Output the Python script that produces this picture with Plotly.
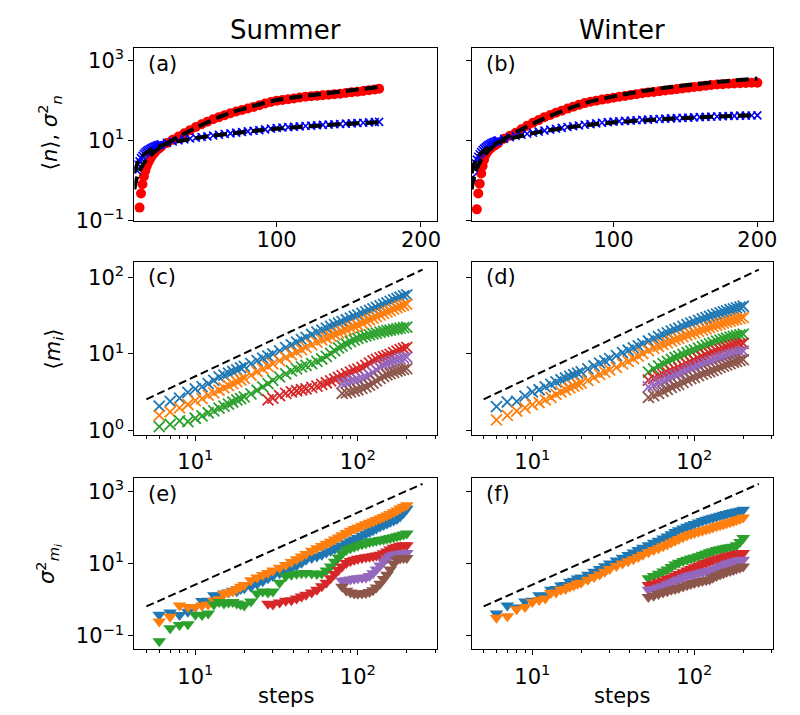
import plotly.graph_objects as go

# ---------------- DATA ----------------
# Row 1 (linear steps): mean <n> (blue x) and variance sigma_n^2 (red circles)
steps_a_var = [5,6,7,8,9,10,11,12,13,14,15,16,17,18,19,20,
               24,28,32,36,40,44,48,52,56,60,64,68,72,76,80,84,88,92,96,100,
               104,108,112,116,120,124,128,132,136,140,144,148,152,156,160,164,168,171]
var_a = [0.21,0.47,0.8,1.25,1.75,2.3,2.8,3.3,3.8,4.3,4.8,5.3,5.8,6.2,6.6,7.0,
         8.6,10.3,12.4,15,18,21.5,25.3,29.3,33.5,38,42.6,47.4,52.3,57.3,62.7,68.5,75,83,91,98,
         102,106,111,117,123,127,130,133,137,141,146,152,158,164,170,178,187,194]
steps_a_mean = [3,4,5,6,7,8,9,10,11,12,13,14,15,16,17,18,19,20,
                24,28,32,36,40,44,48,52,56,60,64,68,72,76,80,84,88,92,96,100,
                104,108,112,116,120,124,128,132,136,140,144,148,152,156,160,164,168,171]
mean_a = [1.8,2.5,3.0,3.6,4.1,4.6,5.0,5.4,5.7,6.0,6.3,6.6,6.9,7.1,7.4,7.6,7.8,8.0,
          8.7,9.4,10.0,10.6,11.1,11.6,12.1,12.6,13.2,13.8,14.4,15.0,15.6,16.2,16.8,17.4,18.0,18.8,19.6,20.4,
          20.9,21.4,21.9,22.4,22.9,23.4,23.9,24.3,24.8,25.2,25.7,26.1,26.6,27.1,27.6,28.1,28.6,29]
fit_a_var_steps = [1.4,3,5,8,12,17,25,35,42,50,63,80,98,115,128,150,171]
fit_a_var = [0.6,1.1,1.7,2.7,4.0,5.8,9.0,14,19,26,42,66,98,122,140,175,215]
fit_a_mean_steps = [1.4,3,5,8,12,20,30,50,75,100,135,171]
fit_a_mean = [1.5,2.4,3.3,4.4,5.6,7.4,9.2,12.3,15.8,19.5,24,28.5]

steps_b_var = [5,6,7,8,9,10,11,12,13,14,15,16,17,18,19,20,
               24,28,32,36,40,44,48,52,56,60,64,68,72,76,80,84,88,92,96,100,
               104,108,112,116,120,124,128,132,136,140,144,148,152,156,160,164,168,172,176,180,
               184,188,192,196,200]
var_b = [0.19,0.47,0.83,1.5,2.3,3.3,4.3,5.0,5.6,6.1,6.6,7.0,7.4,7.8,8.3,8.8,
         11,13,15.5,19,23,27.5,32,38,43,49,55,62,69,77,85,92,98,104,110,116,
         122,128,135,142,150,156,162,168,175,182,190,198,206,214,222,232,242,248,253,258,
         262,266,270,273,275]
steps_b_mean = [2,3,4,5,6,7,8,9,10,11,12,13,14,15,16,17,18,19,20,
                24,28,32,36,40,44,48,52,56,60,64,68,72,76,80,84,88,92,96,100,
                104,108,112,116,120,124,128,132,136,140,144,148,152,156,160,164,168,172,176,180,
                184,188,192,196,200]
mean_b = [1.2,2.0,2.7,3.3,3.9,4.5,5.1,5.7,6.2,6.7,7.2,7.6,8.0,8.4,8.8,9.1,9.4,9.7,10.0,
          11.0,12.0,13.0,13.8,14.6,15.5,16.5,17.5,18.5,19.5,20.5,21.5,22.5,23.5,24.5,25.5,26.5,27.5,28.5,29.3,
          30,30.6,31.2,31.8,32.4,33,33.6,34.2,34.8,35.4,36,36.5,37,37.5,38,38.5,39,39.5,40,40.5,
          41,41.3,41.6,41.8,42]
fit_b_var_steps = [1.4,3,5,8,12,18,25,35,50,65,80,100,120,140,160,180,200]
fit_b_var = [0.6,1.2,2.0,3.3,5.0,7.8,11.5,18,33,55,85,125,170,215,260,305,350]
fit_b_mean_steps = [1.4,3,5,8,12,20,30,50,75,100,150,200]
fit_b_mean = [1.5,2.5,3.5,4.8,6.3,8.9,11.5,16.5,22.5,28,36,43]

# Rows 2-3 (log steps)
steps_log = [6,7,8,9,10,11,12,13,14,15,16,17,18,19,20,22,24,26,28,30,33,36,39,42,45,48,
             52,56,60,64,68,72,76,80,85,90,95,100,106,112,118,124,130,137,144,151,158,166,174,182,191,200]
steps_from28 = steps_log[steps_log.index(28):]
steps_from52 = steps_log[steps_log.index(52):]
steps_from80 = steps_log[steps_log.index(80):]

# (c) <m_i> summer
c1 = [2.07,2.4,2.65,3.15,3.5,3.75,4.1,4.5,5.0,5.3,5.6,5.9,6.2,6.6,6.9, 7.5,8.2,8.8,9.4,10.0,
      11.0,12.1,13.2,14.3,15.4,16.5, 18.0,19.3,20.6,21.8,23.0,24.2,25.4,26.6, 28.1,29.6,31.1,32.3,
      34.0,35.7,37.4,39.1,40.8, 42.8,44.8,46.8,48.8,51.0,53.2,55.4,57.6,59.5]
c2 = [1.57,1.74,1.97,2.18,2.45,2.6,2.9,3.1,3.35,3.6,3.85,4.1,4.35,4.6,4.8, 5.3,5.9,6.4,6.9,7.4,
      8.2,9.0,9.8,10.6,11.4,12.2, 13.3,14.3,15.3,16.2,17.1,18.0,18.9,19.8, 20.9,22.0,23.0,23.8,
      25.3,26.7,28.1,29.5,30.9, 32.5,34.1,35.6,37.1,38.8,40.4,42.0,43.5,45.0]
c3 = [1.12,1.2,1.33,1.3,1.44,1.55,1.7,1.8,1.95,2.07,2.2,2.35,2.5,2.6,2.75, 3.0,3.35,3.7,4.1,4.5,
      5.0,5.5,6.0,6.4,6.8,7.1, 7.5,8.0,8.6,9.3,10.2,11.1,12.0,12.8, 13.6,14.5,15.3,16.0,
      16.7,17.3,17.8,18.3,18.8, 19.3,19.8,20.2,20.6,21.0,21.4,21.8,22.2,22.5]
c4 = [2.5,2.65, 2.85,3.05,3.2,3.3,3.4,3.5, 3.65,3.8,4.0,4.2,4.45,4.7,4.95,5.2, 5.5,5.8,6.1,6.35,
      6.7,7.1,7.6,8.1,8.5, 8.9,9.2,9.5,9.9,10.4,10.9,11.4,11.8,12.2]
c5 = [4.1, 4.2,4.35,4.5,4.6, 4.8,5.0,5.3,5.7,6.2, 6.7,7.2,7.5,7.8,8.1,8.4,8.7,8.9,9.1]
c6 = [3.05, 3.1,3.2,3.3,3.4, 3.55,3.7,3.9,4.15,4.45, 4.8,5.1,5.35,5.55,5.75,5.95,6.15,6.3,6.45]

# (d) <m_i> winter
d1 = [2.05,2.35,2.4,2.8,3.2,3.4,3.7,4.0,4.3,4.6,4.85,5.1,5.35,5.6,5.85, 6.4,7.0,7.6,8.1,8.7,
      9.5,10.4,11.2,12.0,12.8,13.6, 14.8,15.9,16.9,17.9,18.9,19.9,20.9,21.8, 23.0,24.2,25.3,26.4,
      27.6,28.8,30.0,31.1,32.2, 33.4,34.6,35.7,36.8,38.0,39.1,40.2,41.2,42.2]
d2 = [1.37,1.57,1.78,1.97,2.17,2.3,2.5,2.7,2.95,3.2,3.4,3.6,3.8,4.0,4.15, 4.5,4.95,5.4,5.8,6.2,
      6.7,7.4,8.0,8.7,9.4,10.1, 11.1,11.9,12.6,13.3,14.0,14.7,15.4,16.0, 16.8,17.6,18.3,18.9,
      19.8,20.6,21.4,22.2,23.0, 23.8,24.6,25.4,26.2,27.0,27.8,28.5,29.2,30.0]
d3 = [5.8,6.4,7.0,7.5,8.0,8.5,9.0,9.4, 9.9,10.4,10.9,11.3, 11.9,12.5,13.1,13.6,14.1,
      14.7,15.2,15.7,16.1,16.6,17.0,17.4,17.8,18.2]
d4 = [4.55,4.8,5.1,5.4,5.7,6.0,6.3,6.6, 7.0,7.4,7.8,8.2, 8.7,9.2,9.7,10.1,10.5,
      10.9,11.3,11.7,12.1,12.5,12.9,13.2,13.5,13.8]
d5 = [3.7,3.9,4.2,4.4,4.7,4.95,5.25,5.45, 5.8,6.1,6.4,6.7, 7.0,7.3,7.6,7.9,8.2,
      8.5,8.8,9.1,9.4,9.7,10.0,10.3,10.6,10.9]
d6 = [2.7,2.85,3.05,3.25,3.45,3.65,3.85,4.0, 4.25,4.5,4.75,4.95, 5.2,5.45,5.7,5.9,6.1,
      6.4,6.7,6.95,7.2,7.5,7.8,8.0,8.25,8.45]

# (e) sigma^2_{m_i} summer
e1 = [0.39,0.45,0.38,0.47,0.64,0.93,0.95,1.35,1.3,1.5,1.6,1.8,1.75,2.0,2.1, 2.3,2.8,3.3,4.0,4.6,
      5.5,6.5,7.6,9.0,10.8,13.0, 14.5,16,18,20.5,23,26,29,32, 37,42,47,52,
      60,68,76,86,96, 108,120,132,144,158,175,205,255,335]
e2 = [0.25,0.34,0.7,0.64,0.64,0.7,0.75,0.95,1.05,1.45,1.6,1.75,2.0,2.3,2.6, 3.5,4.2,4.9,5.6,6.5,
      7.8,9.3,11.2,13.4,16,18.8, 23,27,31,36,41,47,54,62, 72,82,92,102,
      114,126,138,150,164, 180,198,218,240,268,300,340,380,420]
e3 = [0.071,0.164,0.2,0.21,0.39,0.38,0.42,0.75,0.87,0.8,0.85,0.87,0.8,0.75,0.7, 0.9,1.5,1.7,1.6,1.7,
      3.0,4.5,5.0,5.3,5.5,5.6, 5.4,5.2,5.4,6.5,8.5,11.5,15,19, 24,27,30,32,
      35,37.5,40,42,44, 45.5,47.5,49.5,52,55,58,61,65,69]
e4 = [0.78,0.75, 0.85,0.95,0.98,1.1,1.25,1.4, 1.6,1.9,2.4,3.0,4.0,5.2,6.8,8.5, 10.6,12,13,13.8,
      14.5,15.2,15.8,16.3,17, 18,19.5,22,25,28,30,31.5,32.5,33]
e5 = [3.4, 3.5,3.7,3.85,4.0, 4.1,4.2,4.6,5.5,7.0, 9.0,11.5,14,16.3,17.5,18.4,19.1,19.6,20]
e6 = [2.3, 1.8,1.6,1.5,1.47, 1.5,1.55,1.65,1.85,2.2, 2.8,3.8,5.0,7.0,10,13,14,14.4,14.6]

# (f) sigma^2_{m_i} winter
f1 = [0.42,0.7,0.62,0.91,0.95,1.35,1.3,1.9,2.0,2.5,2.6,3.2,3.4,3.9,4.2, 5.0,6.0,7.2,8.6,10.2,
      12.3,14.8,17.5,20.5,24,28, 33,38.5,44,50,57,66,76,85, 96,107,118,128,
      140,153,166,178,190, 203,216,229,242,256,270,283,298,318]
f2 = [0.32,0.35,0.55,0.64,0.87,1.0,1.1,1.55,1.6,1.9,2.0,2.3,2.5,2.8,3.0, 3.6,4.3,5.1,6.0,7.2,
      8.7,10.2,11.8,13.5,15.5,18, 21,24,27,30.5,34.5,39,44,49, 55,61,67,72,
      77,83,89,95,102, 110,118,126,134,143,152,163,176,192]
f3 = [4.0,4.6,5.3,6.1,7.0,8.2,9.6,10.8, 12,13,14,15, 16.3,17.8,19.4,21,22.5,
      24,25.5,26.8,27.8,28.8,30,33,40,52]
f4 = [2.6,2.8,3.1,3.4,3.8,4.2,4.7,5.2, 5.8,6.5,7.2,8.0, 8.8,9.7,10.6,11.7,12.5,
      13.4,14.3,15.2,16.1,17,18,18.8,19.5,20]
f5 = [1.9,2.0,2.2,2.4,2.7,3.0,3.4,3.7, 4.1,4.5,4.8,5.1, 5.5,5.8,6.1,6.4,6.9,
      7.6,8.4,9.2,10,10.8,11.5,12.1,12.6,13]
f6 = [1.2,1.3,1.45,1.6,1.75,1.9,2.0,2.15, 2.35,2.55,2.75,2.95, 3.15,3.35,3.5,3.7,4.1,
      4.6,5.1,5.5,5.9,6.3,6.8,7.3,7.8,8.4]

# reference power-law guide lines (end points)
guide_steps = [5, 250]
guide_mean = [2.55, 127.5]     # slope 1
guide_var = [0.66, 1650]       # slope 2

colors6 = ["#1f77b4", "#ff7f0e", "#2ca02c", "#d62728", "#9467bd", "#8c564b"]
col_titles = ["Summer", "Winter"]
panel_labels = ["(a)", "(b)", "(c)", "(d)", "(e)", "(f)"]

# ---------------- FIGURE ----------------
W, H = 800, 715
FONT = "DejaVu Sans"
fig = go.Figure()

def xa(i):
    return "x" if i == 1 else f"x{i}"

def ya(i):
    return "y" if i == 1 else f"y{i}"

def scatter(i, xs, ys, **kw):
    fig.add_trace(go.Scatter(x=xs, y=ys, xaxis=xa(i), yaxis=ya(i), showlegend=False,
                             hoverinfo="skip", **kw))

def xmark(color, size=11, width=1.8):
    return dict(symbol="x-thin", size=size, color=color, line=dict(color=color, width=width))

def vmark(color, size=12):
    return dict(symbol="triangle-down", size=size, color=color, line=dict(width=0))

dash_thick = dict(color="black", width=4, dash="13px,6px")
dash_thin = dict(color="black", width=2, dash="8px,4px")

# row 1
for i, (sv, v, sm, m, fvs, fv, fms, fm) in zip(
        [1, 2],
        [(steps_a_var, var_a, steps_a_mean, mean_a, fit_a_var_steps, fit_a_var, fit_a_mean_steps, fit_a_mean),
         (steps_b_var, var_b, steps_b_mean, mean_b, fit_b_var_steps, fit_b_var, fit_b_mean_steps, fit_b_mean)]):
    scatter(i, sv, v, mode="markers", marker=dict(symbol="circle", size=10, color="#ff0000"))
    scatter(i, sm, m, mode="markers", marker=xmark("#0000ff", 8, 1.6))
    scatter(i, fvs, fv, mode="lines", line=dash_thick, line_shape="spline")
    scatter(i, fms, fm, mode="lines", line=dash_thick, line_shape="spline")

steps_sets = [steps_log, steps_log, steps_log, steps_from28, steps_from80, steps_from80]
steps_sets_w = [steps_log, steps_log, steps_from52, steps_from52, steps_from52, steps_from52]

for s, y, c in zip(steps_sets, [c1, c2, c3, c4, c5, c6], colors6):
    scatter(3, s, y, mode="markers", marker=xmark(c))
scatter(3, guide_steps, guide_mean, mode="lines", line=dash_thin)
for s, y, c in zip(steps_sets_w, [d1, d2, d3, d4, d5, d6], colors6):
    scatter(4, s, y, mode="markers", marker=xmark(c))
scatter(4, guide_steps, guide_mean, mode="lines", line=dash_thin)
for s, y, c in zip(steps_sets, [e1, e2, e3, e4, e5, e6], colors6):
    scatter(5, s, y, mode="markers", marker=vmark(c))
scatter(5, guide_steps, guide_var, mode="lines", line=dash_thin)
for s, y, c in zip(steps_sets_w, [f1, f2, f3, f4, f5, f6], colors6):
    scatter(6, s, y, mode="markers", marker=vmark(c))
scatter(6, guide_steps, guide_var, mode="lines", line=dash_thin)

# ---------------- AXES ----------------
cols = [(127, 431), (466, 769)]
rows = [(38, 214), (256, 433), (477, 652)]

def sup(e):
    return "10<sup>" + e.replace("-", "\u2212") + "</sup>"

base = dict(showline=True, linecolor="black", linewidth=1, mirror=True, ticks="outside",
            ticklen=5, tickwidth=1, tickcolor="black", showgrid=False, zeroline=False,
            tickfont=dict(family=FONT, size=21, color="black"))
minor_vals = [5, 6, 7, 8, 9, 20, 30, 40, 50, 60, 70, 80, 90, 200, 300]

layout_axes = {}
for r in range(3):
    for cidx in range(2):
        i = r * 2 + cidx + 1
        x0, x1 = cols[cidx]
        y0, y1 = rows[r]
        xd = dict(base, domain=[x0 / W, x1 / W], anchor=ya(i))
        yd = dict(base, domain=[1 - y1 / H, 1 - y0 / H], anchor=xa(i))
        if r == 0:
            xd.update(type="linear", range=[1.4, 211], tickvals=[100, 200], ticktext=["100", "200"],
                      ticklabelstandoff=-5)
            yd.update(type="log", range=[-1, 3.3], tickvals=[0.1, 10, 1000],
                      ticktext=[sup("-1"), sup("1"), sup("3")])
        else:
            xd.update(type="log", range=[0.625, 2.486], tickvals=[10, 100],
                      ticktext=[sup("1"), sup("2")], ticklabelstandoff=3,
                      minor=dict(tickvals=minor_vals, ticks="outside", ticklen=3,
                                 tickwidth=1, tickcolor="black", showgrid=False))
            if r == 1:
                yd.update(type="log", range=[-0.06, 2.21], tickvals=[1, 10, 100],
                          ticktext=[sup("0"), sup("1"), sup("2")])
            else:
                yd.update(type="log", range=[-1.37, 3.38], tickvals=[0.1, 10, 1000],
                          ticktext=[sup("-1"), sup("1"), sup("3")])
        if cidx == 1:
            yd.update(showticklabels=False)
        key = "" if i == 1 else str(i)
        layout_axes["xaxis" + key] = xd
        layout_axes["yaxis" + key] = yd

annotations = []
def ann(text, x, y, size, xanchor="center", angle=0):
    annotations.append(dict(text=text, x=x / W, y=1 - y / H, xref="paper", yref="paper",
                            xanchor=xanchor, yanchor="middle", showarrow=False, textangle=angle,
                            font=dict(family=FONT, size=size, color="black")))

for cidx, t in enumerate(col_titles):
    ann(t, (cols[cidx][0] + cols[cidx][1]) / 2, 19, 26)
    ann("steps", (cols[cidx][0] + cols[cidx][1]) / 2, 700, 21)
for k, lab in enumerate(panel_labels):
    r, cidx = divmod(k, 2)
    ann(lab, cols[cidx][0] + 12, rows[r][0] + 16, 21, xanchor="left")

ann("\u27e8<i>n</i>\u27e9, <i>\u03c3</i><sup>2</sup><sub><i>n</i></sub>", 42, 124, 21, angle=-90)
ann("\u27e8<i>m</i><sub><i>i</i></sub>\u27e9", 46, 345, 21, angle=-90)
ann("<i>\u03c3</i><sup>2</sup><sub><i>m</i><sub><i>i</i></sub></sub>", 40, 565, 21, angle=-90)

fig.update_layout(width=W, height=H, margin=dict(l=0, r=0, t=0, b=0),
                  paper_bgcolor="white", plot_bgcolor="white", annotations=annotations,
                  **layout_axes)

fig.write_html("out.html")
